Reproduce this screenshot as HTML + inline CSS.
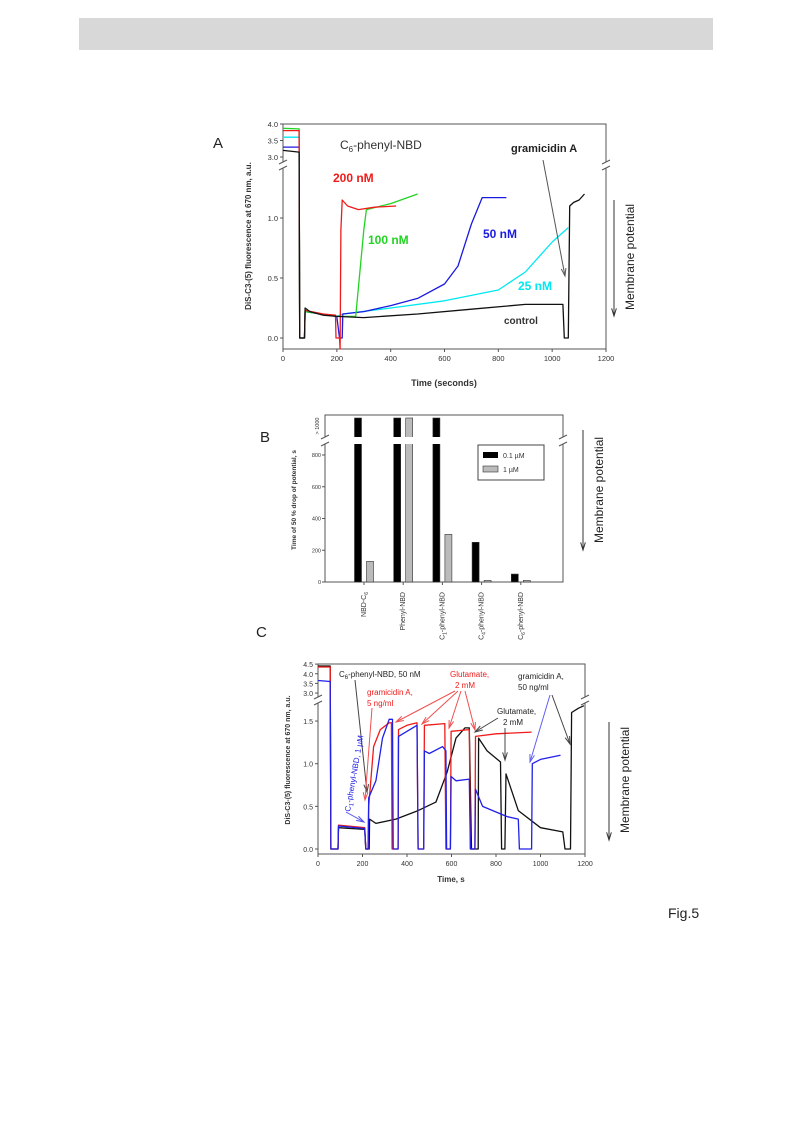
<!DOCTYPE html>
<html><head><meta charset="utf-8">
<style>
body{margin:0;background:#fff;}
svg{display:block;font-family:"Liberation Sans",Arial,sans-serif;}
</style></head>
<body>
<svg id="fig" width="793" height="1121" viewBox="0 0 793 1121" xmlns="http://www.w3.org/2000/svg">
<rect x="79" y="18" width="634" height="32" fill="#d8d8d8"/>
<text x="668" y="918" font-size="14" fill="#222">Fig.5</text>
<g id="pA"></g>
<g id="pB"></g>
<g id="pC"></g>
</svg>
<script>
// ===== Panel A data =====
const aControl=[[0,3.2],[60,3.15],[62,0],[80,0],[82,0.25],[100,0.22],[150,0.19],[200,0.18],[300,0.17],[500,0.2],[700,0.24],[900,0.28],[1040,0.28],[1045,0],[1060,0],[1065,1.1],[1080,1.13],[1100,1.15],[1120,1.2]];
const aRed=[[0,3.8],[60,3.8],[62,0],[80,0],[82,0.23],[150,0.2],[195,0.19],[197,0],[210,0],[212,-0.09],[215,0.9],[220,1.15],[240,1.1],[280,1.07],[340,1.09],[420,1.1]];
const aGreen=[[0,3.87],[60,3.85],[62,0],[80,0],[82,0.22],[200,0.18],[270,0.18],[300,0.9],[310,1.07],[400,1.12],[500,1.2]];
const aBlue=[[0,3.3],[60,3.3],[62,0],[80,0],[82,0.22],[200,0.18],[210,0],[220,0],[222,0.2],[300,0.22],[400,0.27],[500,0.33],[600,0.45],[650,0.6],[700,0.95],[740,1.17],[800,1.17],[830,1.17]];
const aCyan=[[0,3.6],[60,3.6],[62,0],[80,0],[82,0.22],[200,0.18],[222,0.2],[400,0.25],[600,0.31],[800,0.4],[900,0.55],[1000,0.8],[1060,0.92]];
const aXTicks=[0,200,400,600,800,1000,1200];
const aYTicksLow=[0.0,0.5,1.0];
const aYTicksHigh=[3.0,3.5,4.0];
// ===== Panel B data =====
const bCategories=["NBD-C6","Phenyl-NBD","C1-phenyl-NBD","C4-phenyl-NBD","C6-phenyl-NBD"];
const bSeriesLow=[1100,1100,1100,250,50];
const bSeriesHigh=[130,1100,300,10,10];
const bYTicks=[0,200,400,600,800];
// ===== Panel C data =====
const cBlack=[[0,4.4],[55,4.4],[58,0],[90,0],[92,0.25],[210,0.23],[215,0],[230,0],[232,0.35],[260,0.3],[350,0.35],[450,0.45],[530,0.55],[580,0.9],[620,1.3],[660,1.42],[680,1.42],[690,0],[720,0],[722,1.3],[760,1.15],[820,1.02],[825,0],[840,0],[845,0.88],[900,0.45],[1000,0.25],[1100,0.2],[1110,0],[1135,0],[1140,1.6],[1170,1.65],[1195,1.68]];
const cRed=[[0,4.35],[55,4.35],[58,0],[90,0],[92,0.28],[210,0.25],[215,0],[225,0],[228,0.5],[250,1.2],[280,1.4],[320,1.48],[330,1.48],[333,0],[360,0],[362,1.4],[400,1.45],[445,1.48],[450,0],[475,0],[478,1.45],[570,1.47],[575,0],[595,0],[598,1.38],[680,1.4],[685,0],[705,0],[708,1.32],[800,1.35],[960,1.37]];
const cBlue=[[0,3.65],[55,3.6],[58,0],[90,0],[92,0.27],[210,0.24],[215,0],[225,0],[228,0.6],[260,0.8],[290,1.3],[320,1.52],[335,1.52],[338,0],[360,0],[362,1.32],[445,1.45],[450,0],[475,0],[478,1.15],[500,1.12],[560,1.2],[575,1.15],[578,0],[595,0],[598,0.85],[620,0.8],[680,0.82],[685,0],[705,0],[708,0.7],[740,0.5],[850,0.38],[900,0.35],[905,0],[960,0],[963,1.0],[1000,1.05],[1090,1.1]];
const cXTicks=[0,200,400,600,800,1000,1200];
const cYTicksLow=[0.0,0.5,1.0,1.5];
const cYTicksHigh=[3.0,3.5,4.0,4.5];

const NS="http://www.w3.org/2000/svg";
function mk(parent,tag,attrs,text){const e=document.createElementNS(NS,tag);for(const k in attrs)e.setAttribute(k,attrs[k]);if(text!==undefined)e.textContent=text;parent.appendChild(e);return e;}

function lineChart(g,cfg,series){
  const sx=t=>cfg.x0+(t-cfg.tmin)/(cfg.tmax-cfg.tmin)*(cfg.x1-cfg.x0);
  const sy=v=>v>=cfg.hiMin?cfg.hiY0-(v-cfg.hiMin)*cfg.hiK:cfg.loY0-v*cfg.loK;
  const box=mk(g,'rect',{x:cfg.x0,y:cfg.y0,width:cfg.x1-cfg.x0,height:cfg.y1-cfg.y0,fill:'none',stroke:'#555','stroke-width':1});
  
  const gp=mk(g,'rect',{x:cfg.x0-4,y:cfg.brk-3,width:8,height:6,fill:'#fff'});
  
  const gp2=mk(g,'rect',{x:cfg.x1-4,y:cfg.brk-3,width:8,height:6,fill:'#fff'});
  
  [cfg.x0,cfg.x1].forEach(x=>{[-3,3].forEach(d=>{const l=mk(g,'line',{x1:x-4,y1:cfg.brk+d+2,x2:x+4,y2:cfg.brk+d-2,stroke:'#555'});});});
  cfg.xt.forEach(t=>{const l=mk(g,'line',{x1:sx(t),y1:cfg.y1,x2:sx(t),y2:cfg.y1+3,stroke:'#555'});
    const tx=mk(g,'text',{x:sx(t),y:cfg.y1+12,'font-size':cfg.fs,'text-anchor':'middle',fill:'#333'},String(t));});
  cfg.ytl.concat(cfg.yth).forEach(v=>{const y=sy(v);const l=mk(g,'line',{x1:cfg.x0-3,y1:y,x2:cfg.x0,y2:y,stroke:'#555'});
    const tx=mk(g,'text',{x:cfg.x0-5,y:y+3,'font-size':cfg.fs,'text-anchor':'end',fill:'#333'},v.toFixed(1));});
  series.forEach(s=>{const p=mk(g,'polyline',{points:s.d.map(q=>sx(q[0]).toFixed(1)+','+sy(q[1]).toFixed(1)).join(' '),fill:'none',stroke:s.c,'stroke-width':1.3,'stroke-linejoin':'round'});});
  return {sx,sy};
}
function txt(g,name,x,y,s,attrs){const t=mk(g,'text',Object.assign({x:x,y:y},attrs),s);return t;}
function arrow(g,name,x1,y1,x2,y2,c){const l=mk(g,'line',{x1,y1,x2,y2,stroke:c,'stroke-width':1});
  const a=Math.atan2(y2-y1,x2-x1),L=8;const p=mk(g,'polyline',{points:`${x2-L*Math.cos(a-0.3)},${y2-L*Math.sin(a-0.3)} ${x2},${y2} ${x2-L*Math.cos(a+0.3)},${y2-L*Math.sin(a+0.3)}`,fill:'none',stroke:c,'stroke-width':1});}
function memPot(g,ax,ay1,ay2,tx,ty){arrow(g,'membrane-arrow',ax,ay1,ax,ay2,'#333');txt(g,'membrane-potential-label',tx,ty,'Membrane potential',{'font-size':12,'text-anchor':'middle',fill:'#222',transform:`rotate(-90 ${tx} ${ty})`});}

// ===== Panel A =====
const gA=document.getElementById('pA');
lineChart(gA,{x0:283,x1:606,y0:124,y1:349,tmin:0,tmax:1200,hiMin:2.5,hiY0:157+16.5,hiK:33,loY0:338,loK:120,brk:165,xt:aXTicks,ytl:aYTicksLow,yth:aYTicksHigh,fs:7.5},
 [{d:aCyan,c:'#00e8f0',n:'series-25nm'},{d:aBlue,c:'#1a1ae0',n:'series-50nm'},{d:aGreen,c:'#22d422',n:'series-100nm'},{d:aRed,c:'#f01a1a',n:'series-200nm'},{d:aControl,c:'#111',n:'series-control'}]);
txt(gA,'panel-a-letter',213,148,'A',{'font-size':15,fill:'#222'});
txt(gA,'panel-a-title',340,149,'C',{'font-size':12,fill:'#333'}).innerHTML='C<tspan font-size="8" dy="3">6</tspan><tspan dy="-3">-phenyl-NBD</tspan>';
txt(gA,'label-200nm',333,182,'200 nM',{'font-size':12,'font-weight':'bold',fill:'#f01a1a'});
txt(gA,'label-100nm',368,244,'100 nM',{'font-size':12,'font-weight':'bold',fill:'#22d422'});
txt(gA,'label-50nm',483,238,'50 nM',{'font-size':12,'font-weight':'bold',fill:'#1a1ae0'});
txt(gA,'label-25nm',518,290,'25 nM',{'font-size':12,'font-weight':'bold',fill:'#00e8f0'});
txt(gA,'label-control',504,324,'control',{'font-size':10,'font-weight':'bold',fill:'#333'});
txt(gA,'label-gramicidin-a',511,152,'gramicidin A',{'font-size':11,'font-weight':'bold',fill:'#222'});
arrow(gA,'gramicidin-arrow',543,160,565,276,'#555');
txt(gA,'x-axis-title',444,386,'Time (seconds)',{'font-size':9,'font-weight':'bold','text-anchor':'middle',fill:'#333'});
txt(gA,'y-axis-title',251,236,'DiS-C3-(5) fluorescence at 670 nm, a.u.',{'font-size':8,'font-weight':'bold','text-anchor':'middle',fill:'#333',transform:'rotate(-90 251 236)'});
memPot(gA,614,200,316,634,257);

// ===== Panel B =====
const gB=document.getElementById('pB');
(function(){
 const x0=325,x1=563,y0=415,y1=582,k=(582-455)/800,brk=441,top=418;
 const sy=v=>v>1000?top:y1-v*k;
 const fr=mk(gB,'rect',{x:x0,y:y0,width:x1-x0,height:y1-y0,fill:'none',stroke:'#555'});
 bCategories.forEach((c,i)=>{const cx=364+i*39.2;
   [[bSeriesLow[i],'#000',-6,'bar-01um-'],[bSeriesHigh[i],'#bbb',6,'bar-1um-']].forEach(b=>{
     const y=sy(b[0]);const r=mk(gB,'rect',{x:cx+b[2]-3.5,y:y,width:7,height:y1-y,fill:b[1],stroke:'#333','stroke-width':0.6});
     });
   const t=mk(gB,'line',{x1:cx,y1:y1,x2:cx,y2:y1+3,stroke:'#555'});
   const lx=cx+2,ly=y1+10;
   const lab=mk(gB,'text',{x:lx,y:ly,'font-size':7,'text-anchor':'end',fill:'#333',transform:`rotate(-90 ${lx} ${ly})`});
   
   const m=c.match(/^C(\d)(.*)$/);
   if(m){lab.innerHTML='C<tspan font-size="5" dy="2">'+m[1]+'</tspan><tspan dy="-2">'+m[2]+'</tspan>';}
   else if(c==='NBD-C6'){lab.innerHTML='NBD-C<tspan font-size="5" dy="2">6</tspan>';}
   else lab.textContent=c;
 });
 const gap=mk(gB,'rect',{x:x0-5,y:brk-4,width:x1-x0+10,height:7,fill:'#fff'});
 [x0,x1].forEach(x=>{[-4,3].forEach(d=>{const l=mk(gB,'line',{x1:x-4,y1:brk+d+2,x2:x+4,y2:brk+d-2,stroke:'#555'});});});
 bYTicks.forEach(v=>{const y=sy(v);const l=mk(gB,'line',{x1:x0-3,y1:y,x2:x0,y2:y,stroke:'#555'});
   txt(gB,'y-tick-label',x0-4,y+2,String(v),{'font-size':5.5,'text-anchor':'end',fill:'#333'});});
 txt(gB,'y-tick-label-1000',x0-4,428,'> 1000',{'font-size':5.5,'text-anchor':'middle',fill:'#333',transform:`rotate(-90 ${x0-6} 428)`});
 txt(gB,'y-axis-title',296,500,'Time of 50 % drop of potential, s',{'font-size':6.5,'font-weight':'bold','text-anchor':'middle',fill:'#333',transform:'rotate(-90 296 500)'});
 const lg=mk(gB,'rect',{x:478,y:445,width:66,height:35,fill:'#fff',stroke:'#444'});
 const l1=mk(gB,'rect',{x:483,y:452,width:15,height:6,fill:'#000'});
 txt(gB,'legend-entry-01um',503,458,'0.1 \u00b5M',{'font-size':7,fill:'#333'});
 const l2=mk(gB,'rect',{x:483,y:466,width:15,height:6,fill:'#bbb',stroke:'#333','stroke-width':0.6});
 txt(gB,'legend-entry-1um',503,472,'1 \u00b5M',{'font-size':7,fill:'#333'});
 txt(gB,'panel-b-letter',260,442,'B',{'font-size':15,fill:'#222'});
 memPot(gB,583,430,550,603,490);
})();

// ===== Panel C =====
const gC=document.getElementById('pC');
lineChart(gC,{x0:318,x1:585,y0:664,y1:854,tmin:0,tmax:1200,hiMin:2.5,hiY0:693+9.7,hiK:19.3,loY0:849,loK:85.3,brk:700,xt:cXTicks,ytl:cYTicksLow,yth:cYTicksHigh,fs:7},
 [{d:cBlack,c:'#111',n:'series-black'},{d:cRed,c:'#f01a1a',n:'series-red'},{d:cBlue,c:'#2020e8',n:'series-blue'}]);
txt(gC,'panel-c-letter',256,637,'C',{'font-size':15,fill:'#222'});
txt(gC,'x-axis-title',451,882,'Time, s',{'font-size':8,'font-weight':'bold','text-anchor':'middle',fill:'#333'});
txt(gC,'y-axis-title',290,760,'DiS-C3-(5) fluorescence at 670 nm, a.u.',{'font-size':7,'font-weight':'bold','text-anchor':'middle',fill:'#333',transform:'rotate(-90 290 760)'});
txt(gC,'label-c6-phenyl-nbd',339,677,'',{'font-size':8,fill:'#222'}).innerHTML='C<tspan font-size="6" dy="2">6</tspan><tspan dy="-2">-phenyl-NBD, 50 nM</tspan>';
arrow(gC,'arrow-c6',355,680,367,792,'#444');
txt(gC,'label-gramicidin-5',367,695,'gramicidin A,',{'font-size':8,fill:'#f01a1a'});
txt(gC,'label-gramicidin-5b',367,706,'5 ng/ml',{'font-size':8,fill:'#f01a1a'});
arrow(gC,'arrow-gram5',372,708,365,800,'#f05050');
txt(gC,'label-glutamate-red',450,677,'Glutamate,',{'font-size':8,fill:'#f01a1a'});
txt(gC,'label-glutamate-red-b',455,688,'2 mM',{'font-size':8,fill:'#f01a1a'});
arrow(gC,'arrow-glu1',455,691,396,722,'#f05050');
arrow(gC,'arrow-glu2',458,691,422,724,'#f05050');
arrow(gC,'arrow-glu3',461,691,449,728,'#f05050');
arrow(gC,'arrow-glu4',465,691,475,730,'#f05050');
txt(gC,'label-glutamate-black',497,714,'Glutamate,',{'font-size':8,fill:'#222'});
txt(gC,'label-glutamate-black-b',503,725,'2 mM',{'font-size':8,fill:'#222'});
arrow(gC,'arrow-glu-black1',498,718,475,732,'#444');
arrow(gC,'arrow-glu-black2',505,728,505,760,'#444');
txt(gC,'label-gramicidin-50',518,679,'gramicidin A,',{'font-size':8,fill:'#222'});
txt(gC,'label-gramicidin-50b',518,690,'50 ng/ml',{'font-size':8,fill:'#222'});
arrow(gC,'arrow-gram50-blue',550,695,530,762,'#6060f0');
arrow(gC,'arrow-gram50-black',552,695,570,744,'#444');
txt(gC,'label-c1-phenyl-nbd',350,812,'',{'font-size':8,fill:'#2020e8',transform:'rotate(-80 350 812)'}).innerHTML='C<tspan font-size="6" dy="2">1</tspan><tspan dy="-2">-phenyl-NBD, 1 \u00b5M</tspan>';
arrow(gC,'arrow-c1',346,812,364,822,'#5050f0');
memPot(gC,609,722,840,629,780);
</script>
</body></html>
